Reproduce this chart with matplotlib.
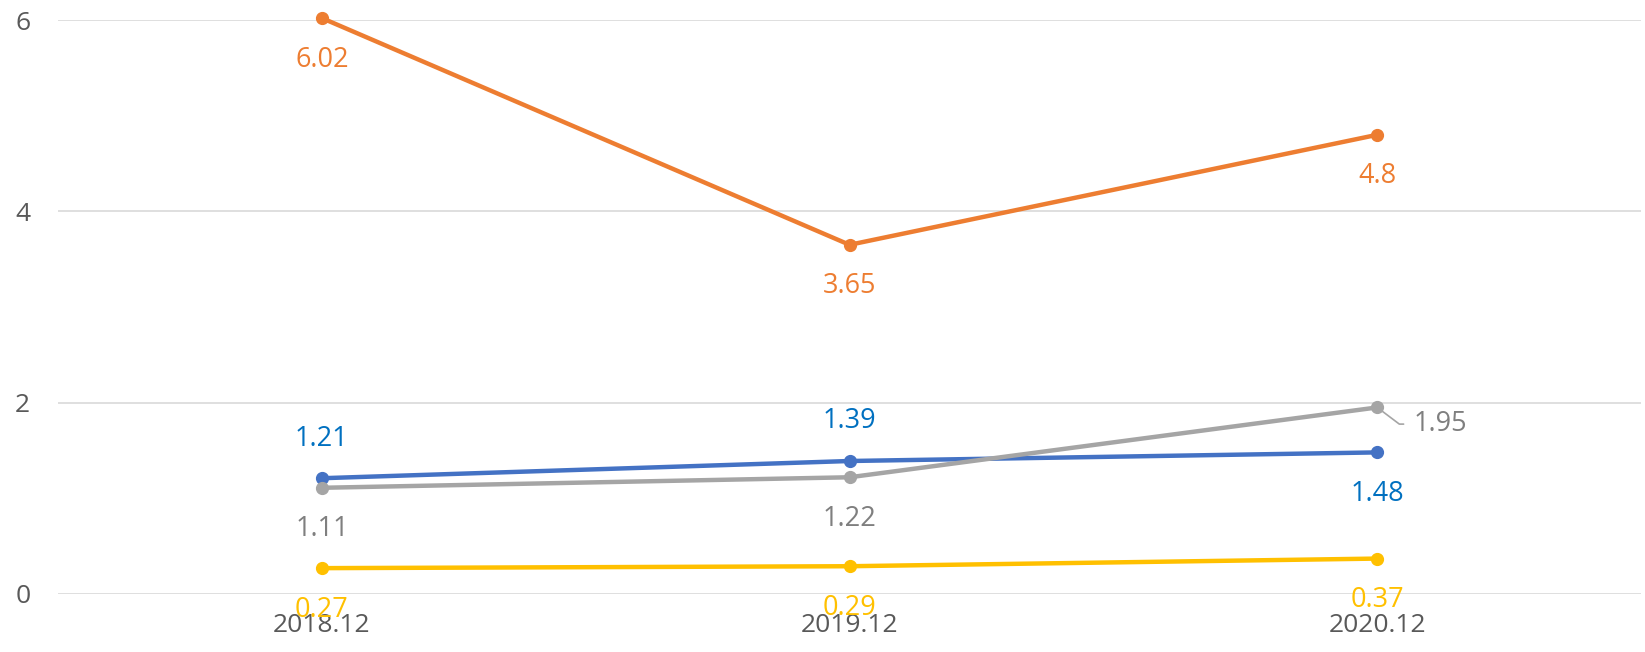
import matplotlib
matplotlib.use("Agg")
import matplotlib.pyplot as plt

plt.rcParams['font.family'] = ['Open Sans', 'DejaVu Sans']

periods = ["2018.12", "2019.12", "2020.12"]
blue_vals = [1.21, 1.39, 1.48]
orange_vals = [6.02, 3.65, 4.8]
gray_vals = [1.11, 1.22, 1.95]
yellow_vals = [0.27, 0.29, 0.37]
y_ticks = [0, 2, 4, 6]

x = list(range(len(periods)))

fig = plt.figure(figsize=(16.45, 6.52), dpi=100)
ax = fig.add_axes([0.0353, 0.089, 0.9623, 0.8803])

series = [
    (orange_vals, "#ED7D31", "#ED7D31", ["below", "below", "below"]),
    (blue_vals, "#4472C4", "#0070C0", ["above", "above", "below"]),
    (gray_vals, "#A5A5A5", "#7F7F7F", ["below", "below", "right"]),
    (yellow_vals, "#FFC000", "#FFC000", ["below", "below", "below"]),
]

for vals, col, lcol, pos in series:
    ax.plot(x, vals, color=col, lw=3.2, marker="o", markersize=8.5,
            solid_capstyle="round", clip_on=False, zorder=3)
    for xi, v, p in zip(x, vals, pos):
        txt = "%g" % v
        if p == "below":
            ax.annotate(txt, (xi, v), xytext=(0, -30), textcoords="offset points",
                        ha="center", va="center", color=lcol, fontsize=19.5,
                        annotation_clip=False)
        elif p == "above":
            ax.annotate(txt, (xi, v), xytext=(0, 28.5), textcoords="offset points",
                        ha="center", va="center", color=lcol, fontsize=19.5,
                        annotation_clip=False)
        else:
            ax.annotate(txt, (xi, v), xytext=(26, -12), textcoords="offset points",
                        ha="left", va="center", color=lcol, fontsize=19.5,
                        annotation_clip=False,
                        arrowprops=dict(arrowstyle="-", color=col, lw=1.2,
                                        shrinkA=5, shrinkB=4, relpos=(0, 0.5),
                                        connectionstyle="angle,angleA=0,angleB=-37,rad=0"))

ax.set_xlim(-0.5, 2.5)
ax.set_ylim(0, 6)
ax.set_xticks(x)
ax.set_xticklabels(periods)
ax.set_yticks(y_ticks)
ax.grid(axis="y", color="#D9D9D9", lw=1.2)
ax.set_axisbelow(True)
for s in ax.spines.values():
    s.set_visible(False)
ax.tick_params(axis="both", length=0, labelsize=19, colors="#595959")
ax.tick_params(axis="x", pad=14)
ax.tick_params(axis="y", pad=20)

fig.savefig("out.png", dpi=100)
